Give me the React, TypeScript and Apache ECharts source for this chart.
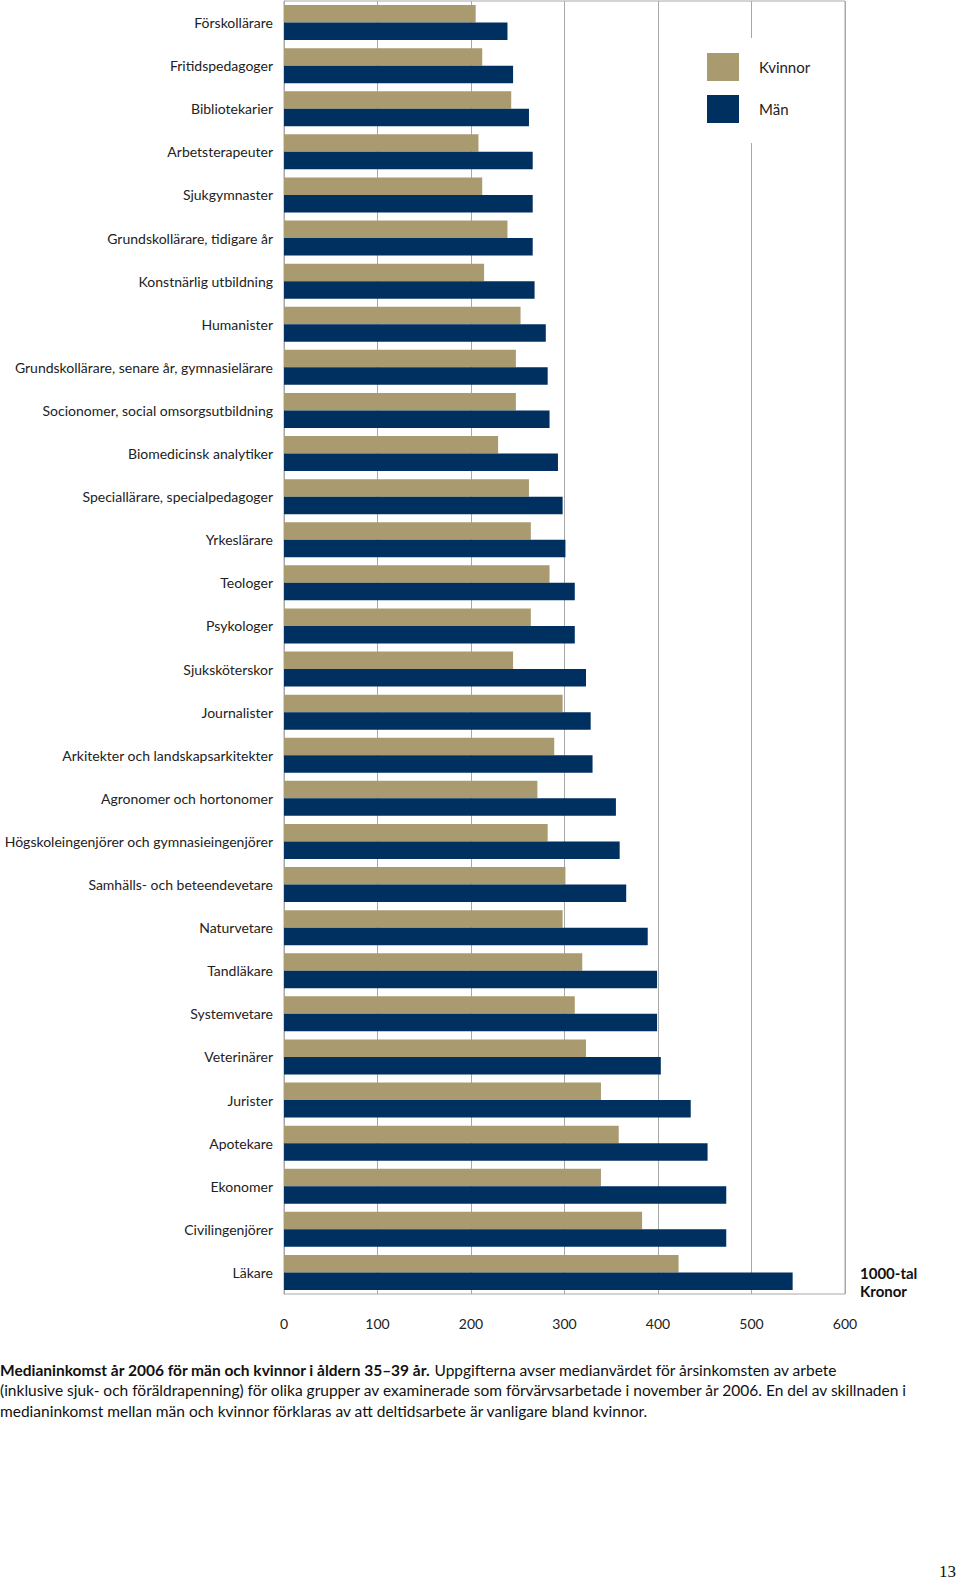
import React, { useEffect, useRef } from "react";
import * as echarts from "echarts";

const categories = [
  "Förskollärare",
  "Fritidspedagoger",
  "Bibliotekarier",
  "Arbetsterapeuter",
  "Sjukgymnaster",
  "Grundskollärare, tidigare år",
  "Konstnärlig utbildning",
  "Humanister",
  "Grundskollärare, senare år, gymnasielärare",
  "Socionomer, social omsorgsutbildning",
  "Biomedicinsk analytiker",
  "Speciallärare, specialpedagoger",
  "Yrkeslärare",
  "Teologer",
  "Psykologer",
  "Sjuksköterskor",
  "Journalister",
  "Arkitekter och landskapsarkitekter",
  "Agronomer och hortonomer",
  "Högskoleingenjörer och gymnasieingenjörer",
  "Samhälls- och beteendevetare",
  "Naturvetare",
  "Tandläkare",
  "Systemvetare",
  "Veterinärer",
  "Jurister",
  "Apotekare",
  "Ekonomer",
  "Civilingenjörer",
  "Läkare",
];

const kvinnor = [
  205, 212, 243, 208, 212, 239, 214, 253, 248, 248, 229, 262, 264, 284, 264,
  245, 298, 289, 271, 282, 301, 298, 319, 311, 323, 339, 358, 339, 383, 422,
];

const man = [
  239, 245, 262, 266, 266, 266, 268, 280, 282, 284, 293, 298, 301, 311, 311,
  323, 328, 330, 355, 359, 366, 389, 399, 399, 403, 435, 453, 473, 473, 544,
];

const seriesNames = ["Kvinnor", "Män"];
const xTicks = [0, 100, 200, 300, 400, 500, 600];
const unitLines = ["1000-tal", "Kronor"];
const captionBold = "Medianinkomst år 2006 för män och kvinnor i åldern 35–39 år.";
const captionLines = [
  " Uppgifterna avser medianvärdet för årsinkomsten av arbete",
  "(inklusive sjuk- och föräldrapenning) för olika grupper av examinerade som förvärvsarbetade i november år 2006. En del av skillnaden i",
  "medianinkomst mellan män och kvinnor förklaras av att deltidsarbete är vanligare bland kvinnor.",
];
const pageNumber = "13";

const TAN = "#A99B6F";
const NAVY = "#00305F";
const GRID = "#A8A8A8";
const FONT = "Lato, 'Open Sans', sans-serif";

export default function App() {
  const ref = useRef<HTMLDivElement>(null);

  useEffect(() => {
    if (!ref.current) return;
    const chart = echarts.init(ref.current, undefined, { renderer: "svg" });
    chart.setOption({
      animation: false,
      backgroundColor: "#fff",
      textStyle: { fontFamily: FONT },
      grid: {
        left: 284,
        right: 115,
        top: 1,
        bottom: 290,
        show: true,
        borderColor: GRID,
        borderWidth: 1,
      },
      legend: {
        orient: "vertical",
        left: 697,
        top: 38,
        padding: [15, 18, 20, 10],
        backgroundColor: "#fff",
        itemWidth: 32,
        itemHeight: 28,
        itemGap: 14,
        icon: "rect",
        data: seriesNames,
        textStyle: {
          fontFamily: FONT,
          fontSize: 15,
          color: "#222",
          padding: [0, 0, 0, 15],
        },
      },
      xAxis: {
        type: "value",
        min: 0,
        max: 600,
        interval: 100,
        axisLine: { show: false },
        axisTick: { show: false },
        splitLine: { show: true, lineStyle: { color: GRID, width: 1 } },
        axisLabel: {
          margin: 22,
          fontSize: 14,
          color: "#222",
          fontFamily: FONT,
          formatter: (v: number) => (xTicks.includes(v) ? String(v) : ""),
        },
      },
      yAxis: {
        type: "category",
        data: categories,
        inverse: true,
        axisLine: { show: true, lineStyle: { color: GRID } },
        axisTick: { show: false },
        axisLabel: {
          margin: 11,
          fontSize: 14,
          color: "#222",
          fontFamily: FONT,
          padding: [0, 0, 4, 0],
        },
      },
      series: [
        {
          name: seriesNames[0],
          type: "bar",
          data: kvinnor,
          barWidth: 17.5,
          barGap: "0%",
          itemStyle: { color: TAN },
        },
        {
          name: seriesNames[1],
          type: "bar",
          data: man,
          barWidth: 17.5,
          barGap: "0%",
          itemStyle: { color: NAVY },
        },
      ],
      graphic: [
        {
          type: "text",
          left: 860,
          top: 1264,
          style: {
            text: unitLines.join("\n"),
            fontFamily: FONT,
            fontSize: 15,
            fontWeight: "bold",
            lineHeight: 18,
            fill: "#111",
          },
        },
        {
          type: "text",
          left: 0,
          top: 1362,
          style: {
            text: "{b|" + captionBold + "}{r|" + captionLines[0] + "}",
            rich: {
              b: { fontFamily: FONT, fontSize: 15.5, fontWeight: "bold", fill: "#111" },
              r: { fontFamily: FONT, fontSize: 15.5, fill: "#111" },
            },
          },
        },
        {
          type: "text",
          left: 0,
          top: 1382,
          style: {
            text: captionLines[1],
            fontFamily: FONT,
            fontSize: 15.5,
            fill: "#111",
          },
        },
        {
          type: "text",
          left: 0,
          top: 1403,
          style: {
            text: captionLines[2],
            fontFamily: FONT,
            fontSize: 15.5,
            fill: "#111",
          },
        },
        {
          type: "text",
          right: 4,
          top: 1563,
          style: {
            text: pageNumber,
            fontFamily: "'Liberation Serif', 'DejaVu Serif', serif",
            fontSize: 17,
            fill: "#111",
          },
        },
      ],
    });
    return () => chart.dispose();
  }, []);

  return (
    <div
      ref={ref}
      style={{ position: "absolute", left: 0, top: 0, width: 960, height: 1584 }}
    />
  );
}
